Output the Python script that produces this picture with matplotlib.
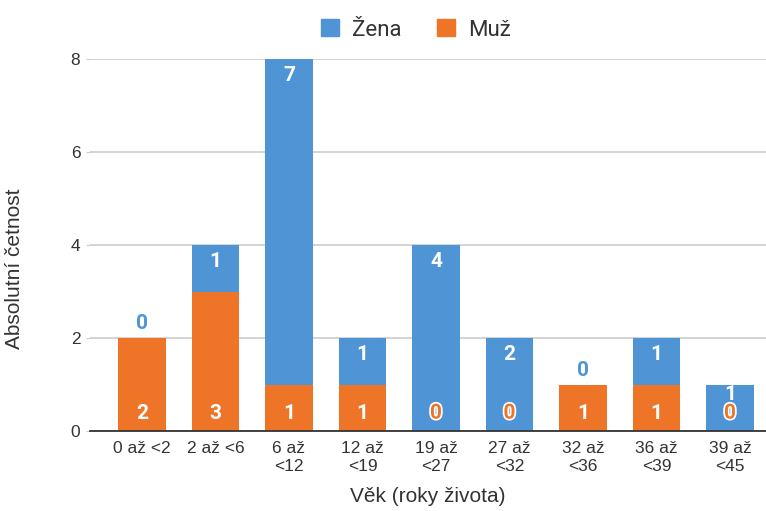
import matplotlib.pyplot as plt
import matplotlib.patheffects as pe
import numpy as np

# age groups and counts per sex
groups = ['0 až <2', '2 až <6', '6 až\n<12', '12 až\n<19', '19 až\n<27',
          '27 až\n<32', '32 až\n<36', '36 až\n<39', '39 až\n<45']
zena = [0, 1, 7, 1, 4, 2, 0, 1, 1]
muz = [2, 3, 1, 1, 0, 0, 1, 1, 0]

blue = '#4f95d6'
orange = '#ee7427'
text_c = '#333333'

fig = plt.figure(figsize=(7.66, 5.11), dpi=100)
ax = fig.add_axes([90 / 766, 1 - 431 / 511, 676 / 766, 372 / 511])

x = np.arange(len(groups))
w = 0.65
ax.bar(x, muz, w, color=orange, zorder=3)
ax.bar(x, zena, w, bottom=muz, color=blue, zorder=3)

ax.set_xlim(-0.707, 8.49)
ax.set_ylim(0, 8)
ax.set_yticks([0, 2, 4, 6, 8])
ax.grid(axis='y', color='#cccccc', lw=1.2, zorder=0)
for s in ['top', 'right', 'left']:
    ax.spines[s].set_visible(False)
ax.spines['bottom'].set_color(text_c)
ax.spines['bottom'].set_linewidth(1.3)
ax.spines['bottom'].set_zorder(4)
ax.tick_params(axis='y', length=3, color='#cccccc', labelsize=12.5,
               labelcolor=text_c, pad=4)
ax.tick_params(axis='x', length=0, labelsize=12.5, labelcolor=text_c, pad=7)
ax.set_xticks(x)
ax.set_xticklabels(groups, family='Liberation Sans', linespacing=1.3, va='top')
for t in ax.get_yticklabels():
    t.set_family('Liberation Sans')

ax.set_ylabel('Absolutní četnost', fontsize=15, color=text_c,
              family='Liberation Sans')
ax.yaxis.set_label_coords(-0.097, 0.435)
ax.set_xlabel('Věk (roky života)', fontsize=15, color=text_c,
              family='Liberation Sans', labelpad=9)

# value labels: Muž at the bar foot, Žena near the top of its segment
lab = dict(family='Roboto', weight='bold', fontsize=15, ha='center')
h_lab = 0.4
for i in range(len(groups)):
    top = muz[i] + zena[i]
    if zena[i] > 0:
        y_z = max(top - 0.15, 0.18 + h_lab + 0.02 + h_lab)
        ax.text(x[i], y_z, str(zena[i]), color='white', va='top', **lab)
    else:
        ax.text(x[i], top + 0.1, str(zena[i]), color=blue, va='bottom', **lab)
    if muz[i] > 0:
        ax.text(x[i], 0.18, str(muz[i]), color='white', va='bottom', **lab)
    else:
        ax.text(x[i], 0.18, str(muz[i]), color=orange, va='bottom', **lab,
                path_effects=[pe.withStroke(linewidth=2.5, foreground='white')])

# legend
handles = [plt.Rectangle((0, 0), 1, 1, color=blue),
           plt.Rectangle((0, 0), 1, 1, color=orange)]
fig.legend(handles, ['Žena', 'Muž'], loc='center',
           bbox_to_anchor=(416 / 766, 1 - 30 / 511),
           ncol=2, frameon=False, prop={'family': 'Roboto', 'size': 16},
           handlelength=0.8, handleheight=0.8, handletextpad=0.6,
           columnspacing=1.6, labelcolor=text_c)

fig.savefig('out.png', dpi=100)
